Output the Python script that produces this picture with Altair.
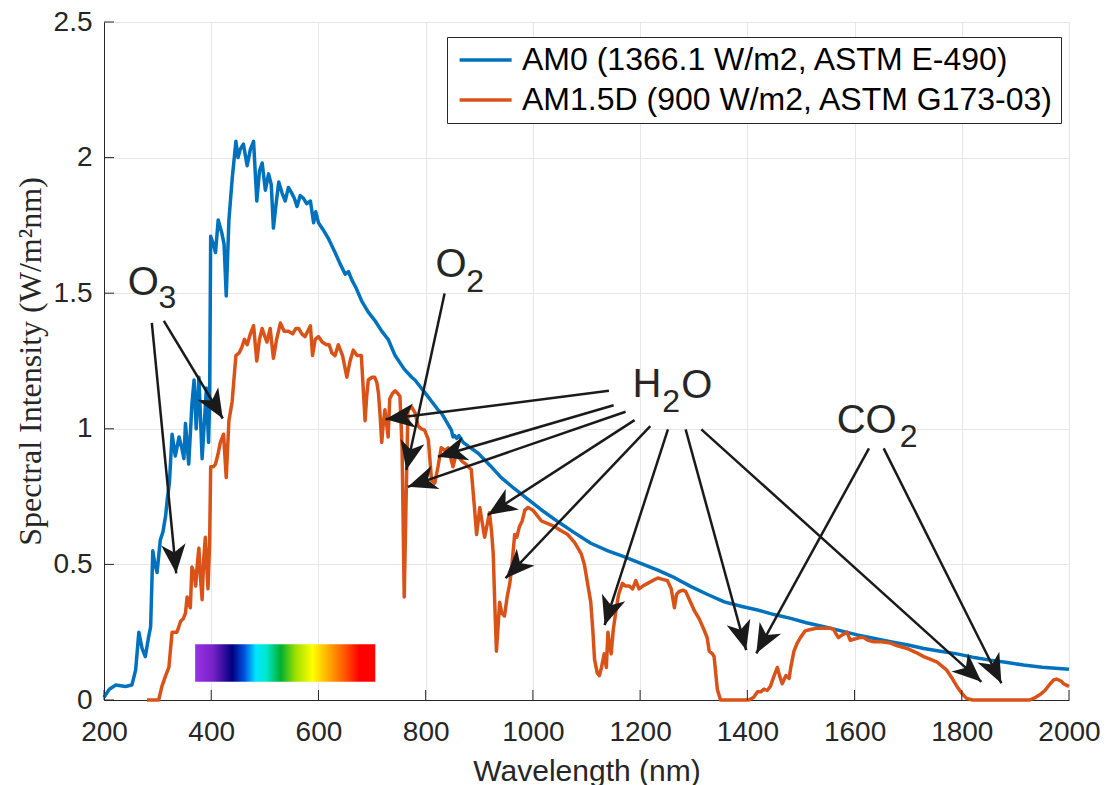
import math
import altair as alt
import pandas as pd

# ---------------- data ----------------
am0_wl = [200, 210, 222, 240, 252, 259, 265, 271, 277, 283, 287, 291, 295, 299, 305, 310, 315, 318, 322, 327,
          333, 340, 345, 349, 352, 358, 364, 368, 372, 377, 383, 388, 391, 395, 397, 399, 404, 408, 413, 420,
          424, 428, 433, 439, 446, 450, 454, 460, 467, 473, 479, 485, 490, 495, 501, 507, 512, 516, 521, 526,
          532, 538, 544, 550, 555, 560, 566, 572, 578, 585, 591, 595, 600, 610, 619, 631, 640, 650, 656, 662,
          670, 681, 693, 705, 718, 730, 743, 760, 774, 780, 800, 823, 829, 848, 851, 854, 858, 862, 870, 880,
          898, 920, 941, 965, 991, 1020, 1047, 1075, 1108, 1140, 1171, 1200, 1233, 1265, 1295, 1325, 1357,
          1390, 1419, 1450, 1481, 1510, 1543, 1575, 1605, 1635, 1667, 1700, 1729, 1760, 1791, 1820, 1853,
          1885, 1915, 1950, 1975, 2000]
am0_val = [0.01, 0.04, 0.055, 0.05, 0.055, 0.11, 0.25, 0.19, 0.16, 0.23, 0.27, 0.55, 0.50, 0.47, 0.59, 0.62,
           0.68, 0.74, 0.80, 0.98, 0.90, 0.97, 0.93, 0.89, 1.02, 0.87, 1.09, 1.18, 1.00, 1.19, 0.89, 1.05, 1.15,
           0.95, 1.10, 1.71, 1.68, 1.65, 1.77, 1.72, 1.68, 1.49, 1.77, 1.92, 2.06, 2.00, 2.03, 2.05, 1.97, 2.03,
           2.06, 1.84, 1.95, 1.98, 1.88, 1.94, 1.90, 1.74, 1.83, 1.91, 1.87, 1.84, 1.89, 1.87, 1.85, 1.82, 1.86,
           1.85, 1.83, 1.84, 1.76, 1.80, 1.76, 1.73, 1.70, 1.65, 1.61, 1.57, 1.58, 1.55, 1.52, 1.47, 1.43, 1.40,
           1.36, 1.33, 1.27, 1.22, 1.19, 1.18, 1.13, 1.07, 1.06, 0.995, 0.97, 0.975, 0.965, 0.975, 0.95, 0.935,
           0.91, 0.865, 0.82, 0.78, 0.74, 0.695, 0.657, 0.62, 0.578, 0.55, 0.528, 0.505, 0.479, 0.45, 0.418,
           0.39, 0.362, 0.345, 0.332, 0.315, 0.301, 0.285, 0.270, 0.255, 0.240, 0.228, 0.215, 0.203, 0.190,
           0.180, 0.170, 0.158, 0.147, 0.138, 0.129, 0.121, 0.117, 0.113]

am15_wl = [280, 302, 308, 315, 321, 327, 332, 336, 343, 348, 352, 355, 361, 364, 368, 371, 374, 377, 380, 383,
           386, 389, 392, 394, 397, 399, 404, 408, 413, 417, 423, 428, 433, 439, 446, 452, 457, 462, 467, 473,
           479, 485, 490, 495, 500, 504, 510, 516, 522, 529, 536, 544, 552, 558, 563, 569, 575, 580, 585, 589,
           594, 600, 607, 615, 620, 625, 631, 637, 645, 653, 659, 665, 672, 680, 687, 690, 693, 700, 705, 709,
           712, 715, 718, 721, 724, 727, 730, 733, 738, 743, 748, 752, 756, 760, 764, 767, 774, 780, 786, 792,
           798, 805, 811, 817, 823, 829, 836, 842, 847, 851, 856, 860, 868, 875, 879, 885, 891, 895, 898, 901,
           905, 910, 915, 919, 923, 926, 929, 932, 935, 938, 942, 947, 952, 957, 961, 966, 970, 975, 980, 985,
           991, 1000, 1016, 1028, 1040, 1052, 1065, 1078, 1090, 1096, 1102, 1108, 1112, 1115, 1120, 1124, 1128,
           1133, 1137, 1140, 1143, 1146, 1150, 1155, 1160, 1167, 1173, 1180, 1186, 1192, 1198, 1205, 1214, 1223,
           1233, 1242, 1251, 1258, 1264, 1268, 1273, 1280, 1285, 1292, 1301, 1310, 1319, 1325, 1329, 1335, 1338,
           1341, 1344, 1350, 1403, 1412, 1419, 1425, 1431, 1437, 1443, 1450, 1456, 1460, 1465, 1472, 1478, 1481,
           1487, 1493, 1499, 1508, 1518, 1530, 1543, 1555, 1561, 1565, 1570, 1577, 1586, 1592, 1600, 1610, 1617,
           1625, 1636, 1650, 1667, 1680, 1698, 1715, 1729, 1742, 1754, 1763, 1772, 1782, 1791, 1800, 1809, 1820,
           1927, 1938, 1946, 1955, 1965, 1972, 1977, 1985, 1990, 1995, 2000]
am15_val = [0.0, 0.0, 0.05, 0.09, 0.12, 0.25, 0.25, 0.25, 0.29, 0.30, 0.32, 0.38, 0.34, 0.49, 0.47, 0.42, 0.50,
            0.56, 0.45, 0.37, 0.52, 0.60, 0.48, 0.41, 0.58, 0.86, 0.86, 0.87, 0.91, 0.95, 0.98, 0.82, 1.03, 1.10,
            1.27, 1.28, 1.30, 1.33, 1.31, 1.35, 1.38, 1.25, 1.33, 1.37, 1.34, 1.32, 1.37, 1.26, 1.33, 1.39, 1.36,
            1.36, 1.35, 1.37, 1.37, 1.35, 1.34, 1.36, 1.38, 1.27, 1.33, 1.34, 1.32, 1.31, 1.31, 1.28, 1.27, 1.31,
            1.27, 1.19, 1.25, 1.29, 1.27, 1.27, 1.03, 1.12, 1.18, 1.19, 1.19, 1.17, 1.13, 1.05, 0.95, 1.02, 1.07,
            1.02, 0.97, 1.11, 1.13, 1.14, 1.13, 1.12, 0.93, 0.38, 0.79, 1.07, 1.08, 1.06, 1.01, 1.00, 0.995, 0.96,
            0.81, 0.80, 0.86, 0.93, 0.92, 0.93, 0.89, 0.86, 0.90, 0.90, 0.88, 0.87, 0.86, 0.85, 0.71, 0.61, 0.66,
            0.71, 0.66, 0.60, 0.65, 0.69, 0.62, 0.54, 0.35, 0.18, 0.27, 0.36, 0.32, 0.31, 0.38, 0.43, 0.50, 0.61,
            0.60, 0.64, 0.66, 0.70, 0.71, 0.70, 0.66, 0.65, 0.64, 0.625, 0.61, 0.58, 0.54, 0.50, 0.43, 0.36, 0.25,
            0.15, 0.10, 0.09, 0.12, 0.17, 0.12, 0.25, 0.20, 0.17, 0.26, 0.33, 0.39, 0.43, 0.42, 0.42, 0.41, 0.44,
            0.41, 0.42, 0.43, 0.44, 0.45, 0.445, 0.44, 0.41, 0.34, 0.39, 0.40, 0.405, 0.40, 0.37, 0.33, 0.30, 0.26,
            0.23, 0.18, 0.17, 0.16, 0.10, 0.04, 0.0, 0.0, 0.01, 0.03, 0.03, 0.04, 0.035, 0.05, 0.09, 0.12, 0.09,
            0.06, 0.09, 0.08, 0.12, 0.18, 0.21, 0.23, 0.255, 0.26, 0.265, 0.265, 0.265, 0.26, 0.245, 0.23, 0.24,
            0.25, 0.22, 0.225, 0.23, 0.23, 0.22, 0.215, 0.215, 0.21, 0.20, 0.19, 0.175, 0.16, 0.15, 0.14, 0.125,
            0.11, 0.08, 0.05, 0.025, 0.006, 0.0, 0.0, 0.01, 0.02, 0.035, 0.06, 0.075, 0.077, 0.07, 0.06, 0.055, 0.05]

series_names = ["AM0 (1366.1 W/m2, ASTM E-490)", "AM1.5D (900 W/m2, ASTM G173-03)"]
series_colors = ["#0072BD", "#D95319"]

x_ticks = [200, 400, 600, 800, 1000, 1200, 1400, 1600, 1800, 2000]
y_ticks = [0, 0.5, 1, 1.5, 2, 2.5]

# annotation arrows: start (x0, y0) -> tip (x1, y1)
arrow_x0 = [289.2, 311.6, 835.3, 1141.8, 1150.6, 1172.9, 1189.7, 1219.0, 1251.9, 1284.9, 1314.2, 1626.9, 1654.3]
arrow_y0 = [1.391, 1.398, 1.499, 1.140, 1.087, 1.063, 1.032, 1.010, 0.998, 0.998, 0.998, 0.928, 0.928]
arrow_x1 = [334.7, 421.6, 763.8, 725.2, 822.8, 766.8, 916.0, 949.1, 1133.8, 1397.8, 1836.6, 1416.8, 1873.9]
arrow_y1 = [0.467, 1.038, 0.848, 1.035, 0.897, 0.786, 0.682, 0.449, 0.276, 0.184, 0.067, 0.172, 0.062]

# molecule labels (main glyphs and subscripts)
label_text = ["O", "3", "O", "2", "H", "2", "O", "CO", "2"]
label_x = [244.4, 301.7, 818.5, 875.7, 1186.0, 1241.4, 1276.9, 1566.6, 1684.1]
label_y = [1.493, 1.445, 1.560, 1.505, 1.118, 1.063, 1.115, 0.985, 0.934]
label_size = [40, 32, 40, 32, 40, 32, 40, 40, 32]

# visible spectrum colour bar
spectrum_x = [370, 706]
spectrum_y = [0.067, 0.206]
spectrum_offsets = [0.0, 0.096, 0.207, 0.272, 0.337, 0.393, 0.476, 0.559, 0.652, 0.735, 0.837, 0.911, 1.0]
spectrum_colors = ["#9932e6", "#7a22c8", "#000080", "#0050e0", "#00e5ff", "#00e8d0", "#00b030",
                   "#a0e000", "#ffff00", "#ffb000", "#ff5000", "#ff0000", "#ff0000"]

# ---------------- layout ----------------
W, H = 965, 678
XMIN, XMAX, YMIN, YMAX = 200, 2000, 0, 2.5
AX = "#262626"

lines_df = pd.DataFrame({
    "wl": am0_wl + am15_wl,
    "val": am0_val + am15_val,
    "series": [series_names[0]] * len(am0_wl) + [series_names[1]] * len(am15_wl),
})

pxx = W / (XMAX - XMIN)
pxy = H / (YMAX - YMIN)
angles = []
for a, b, c, d in zip(arrow_x0, arrow_y0, arrow_x1, arrow_y1):
    dx = (c - a) * pxx
    dy = -(d - b) * pxy
    angles.append(math.degrees(math.atan2(dx, -dy)) % 360)
arrows_df = pd.DataFrame({"x0": arrow_x0, "y0": arrow_y0, "x1": arrow_x1, "y1": arrow_y1, "ang": angles})
labels_df = pd.DataFrame({"t": label_text, "x": label_x, "y": label_y, "s": label_size})
spec_df = pd.DataFrame({"x": [spectrum_x[0]], "x2": [spectrum_x[1]], "y": [spectrum_y[0]], "y2": [spectrum_y[1]]})
xt_df = pd.DataFrame({"x": x_ticks})
yt_df = pd.DataFrame({"y": y_ticks})

xscale = alt.Scale(domain=[XMIN, XMAX], nice=False, zero=False)
yscale = alt.Scale(domain=[YMIN, YMAX], nice=False)
xaxis = alt.Axis(values=x_ticks, format="d", title="Wavelength (nm)", ticks=False, tickSize=0,
                 labelFlush=False, labelFontSize=28, labelPadding=18, titleFontSize=30, titlePadding=10,
                 titleFontWeight="normal")
yaxis = alt.Axis(values=y_ticks, format="~g", title="Spectral Intensity (W/m²nm)", ticks=False, tickSize=0,
                 labelFlush=False, labelFontSize=28, labelPadding=12, titleFontSize=32, titlePadding=6,
                 titleFont="Liberation Serif", titleFontWeight="normal")


def X(field):
    return alt.X(field, scale=xscale, axis=xaxis)


def Y(field):
    return alt.Y(field, scale=yscale, axis=yaxis)


lines = alt.Chart(lines_df).mark_line(strokeWidth=3.5, strokeJoin="round").encode(
    x=X("wl:Q"),
    y=Y("val:Q"),
    color=alt.Color("series:N", scale=alt.Scale(domain=series_names, range=series_colors),
                    sort=series_names,
                    legend=alt.Legend(title=None, orient="none", legendX=343, legendY=15,
                                      symbolType="M-1,0L4,0", symbolSize=433, symbolStrokeWidth=3.5,
                                      labelFontSize=32, labelFont="Liberation Sans", labelColor="#000000",
                                      labelOffset=36, labelLimit=700, padding=7, rowPadding=8,
                                      fillColor="#ffffff", strokeColor=AX)),
)

spectrum = alt.Chart(spec_df).mark_rect(
    color=alt.Gradient(gradient="linear", x1=0, x2=1, y1=0, y2=0,
                       stops=[alt.GradientStop(offset=o, color=c) for o, c in zip(spectrum_offsets, spectrum_colors)])
).encode(x=X("x:Q"), x2="x2:Q", y=Y("y:Q"), y2="y2:Q")

arrow_lines = alt.Chart(arrows_df).mark_rule(color="#1a1a1a", strokeWidth=2.5).encode(
    x=X("x0:Q"), x2="x1:Q", y=Y("y0:Q"), y2="y1:Q")

arrow_heads = alt.Chart(arrows_df).mark_point(
    shape="M0,0L0.42,1L0,0.72L-0.42,1Z", filled=True, color="#1a1a1a", size=3400, opacity=1, strokeWidth=0
).encode(x=X("x1:Q"), y=Y("y1:Q"), angle=alt.Angle("ang:Q", scale=None))

labels = alt.Chart(labels_df).mark_text(
    align="left", baseline="alphabetic", font="Liberation Sans", color=AX
).encode(x=X("x:Q"), y=Y("y:Q"), text="t:N", size=alt.Size("s:Q", scale=None))

xticks = alt.Chart(xt_df).mark_rule(color=AX, strokeWidth=1).encode(
    x=X("x:Q"), y=alt.value(H), y2=alt.value(H - 10))
yticks = alt.Chart(yt_df).mark_rule(color=AX, strokeWidth=1).encode(
    y=Y("y:Q"), x=alt.value(0), x2=alt.value(10))

chart = alt.layer(spectrum, lines, arrow_lines, arrow_heads, labels, xticks, yticks).properties(
    width=W, height=H,
    padding={"left": 104, "top": 22, "right": 42, "bottom": 85},
    autosize=alt.AutoSizeParams(type="none"),
    background="#ffffff",
).configure_axis(
    grid=True, gridColor="#e6e6e6", gridWidth=1, domainColor=AX, domainWidth=1,
    labelColor=AX, titleColor=AX, labelFont="Liberation Sans", titleFont="Liberation Sans",
).configure_view(stroke="#e6e6e6")

chart.save("out.html", embed_options={"renderer": "svg", "actions": False})
